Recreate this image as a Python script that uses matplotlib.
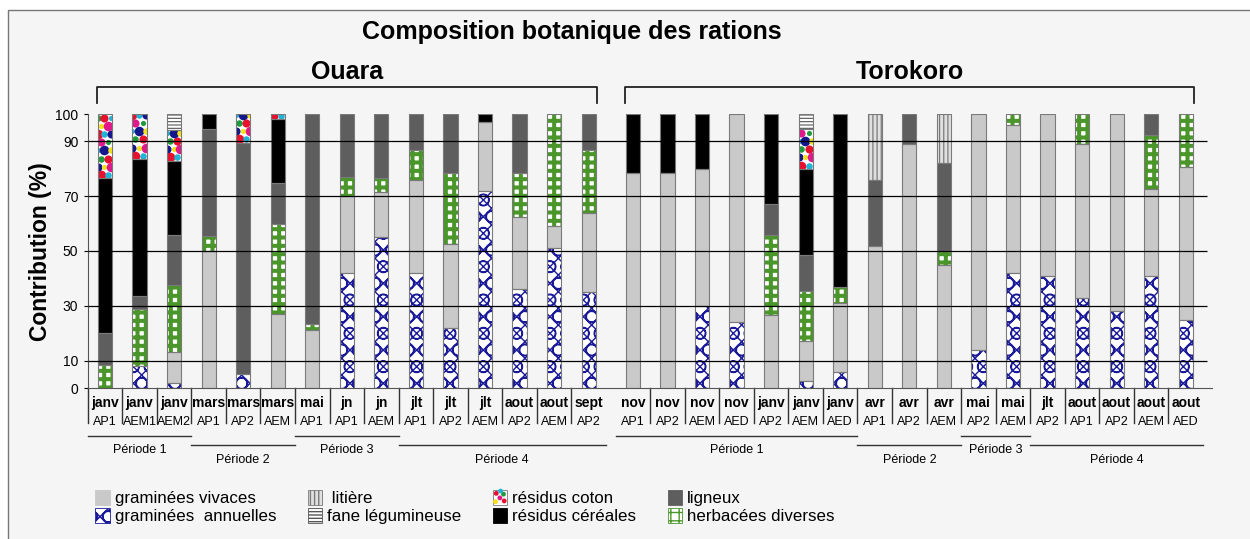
import matplotlib.pyplot as plt
import matplotlib.transforms as mtransforms
from matplotlib.legend_handler import HandlerBase
from matplotlib.patches import Patch, Rectangle, Circle
import numpy as np

plt.rcParams["font.family"] = ["Liberation Sans", "DejaVu Sans"]
NARROW = ["Liberation Sans Narrow", "Liberation Sans", "DejaVu Sans"]

# --- données ---------------------------------------------------------------
sites = ["Ouara", "Torokoro"]
site_index = [0] * 15 + [1] * 17
months = ["janv", "janv", "janv", "mars", "mars", "mars", "mai", "jn", "jn",
          "jlt", "jlt", "jlt", "aout", "aout", "sept",
          "nov", "nov", "nov", "nov", "janv", "janv", "janv", "avr", "avr", "avr",
          "mai", "mai", "jlt", "aout", "aout", "aout", "aout"]
codes = ["AP1", "AEM1", "AEM2", "AP1", "AP2", "AEM", "AP1", "AP1", "AEM",
         "AP1", "AP2", "AEM", "AP2", "AEM", "AP2",
         "AP1", "AP2", "AEM", "AED", "AP2", "AEM", "AED", "AP1", "AP2", "AEM",
         "AP2", "AEM", "AP2", "AP1", "AP2", "AEM", "AED"]
periods = [("Période 1", 0, 2), ("Période 2", 3, 5), ("Période 3", 6, 8),
           ("Période 4", 9, 14),
           ("Période 1", 15, 21), ("Période 2", 22, 24), ("Période 3", 25, 26),
           ("Période 4", 27, 31)]

# contributions (%) de chaque composante, du bas vers le haut des barres
annuelles = [0, 8, 2, 0, 5, 0, 0, 42, 55, 42, 22, 72, 36, 51, 35,
             0, 0, 30, 24, 0, 2.5, 6, 0, 0, 0, 14, 42, 41, 33, 28, 41, 25]
vivaces = [0, 0, 11, 50, 0, 27, 21, 28, 16.5, 34, 30.5, 25, 26.5, 8, 29,
           78.5, 78.5, 50, 76, 26.5, 14.5, 25, 52, 89, 45, 86, 54, 59, 56, 72, 31.5, 55.5]
herbacees = [8.5, 21, 24.5, 5.5, 0, 33, 2.5, 7, 5, 11, 26, 0, 16, 41, 23,
             0, 0, 0, 0, 29.5, 18.5, 6, 0, 0, 5, 0, 4, 0, 11, 0, 20, 19.5]
ligneux = [11.5, 4.5, 18.5, 39, 84.5, 15, 76.5, 23, 23.5, 13, 21.5, 0, 21.5, 0, 13,
           0, 0, 0, 0, 11, 13, 0, 24, 11, 32, 0, 0, 0, 0, 0, 7.5, 0]
cereales = [56.5, 50, 27, 5.5, 0, 23, 0, 0, 0, 0, 0, 3, 0, 0, 0,
            21.5, 21.5, 20, 0, 33, 31.5, 63, 0, 0, 0, 0, 0, 0, 0, 0, 0, 0]
coton = [23.5, 16.5, 11, 0, 10.5, 2, 0, 0, 0, 0, 0, 0, 0, 0, 0,
         0, 0, 0, 0, 0, 14.5, 0, 0, 0, 0, 0, 0, 0, 0, 0, 0, 0]
fane = [0, 0, 6, 0, 0, 0, 0, 0, 0, 0, 0, 0, 0, 0, 0,
        0, 0, 0, 0, 0, 5.5, 0, 0, 0, 0, 0, 0, 0, 0, 0, 0, 0]
litiere = [0, 0, 0, 0, 0, 0, 0, 0, 0, 0, 0, 0, 0, 0, 0,
           0, 0, 0, 0, 0, 0, 0, 24, 0, 18, 0, 0, 0, 0, 0, 0, 0]

# --- styles ----------------------------------------------------------------
EDGE = "#7a7a7a"
DOT_COLORS = ["#e8112d", "#22b4d6", "#15168c", "#f3e21a", "#e0188a", "#1f9a3c"]
styles = {
    "graminées vivaces": dict(facecolor="#c9c9c9"),
    "graminées annuelles": dict(facecolor="white", edgecolor="#1b1b9a", hatch="xxO", hlw=1.0),
    "herbacées diverses": dict(facecolor="white", edgecolor="#4a962a", hatch="++", hlw=2.9),
    "ligneux": dict(facecolor="#5e5e5e"),
    "résidus céréales": dict(facecolor="black"),
    "résidus coton": dict(facecolor="white"),
    "fane légumineuse": dict(facecolor="white", edgecolor="#555555", hatch="-----", hlw=0.8),
    "litière": dict(facecolor="#e0e0e0", edgecolor="#7a7a7a", hatch="||||", hlw=0.9),
}
layers = [("graminées annuelles", annuelles), ("graminées vivaces", vivaces),
          ("herbacées diverses", herbacees), ("ligneux", ligneux),
          ("résidus céréales", cereales), ("résidus coton", coton),
          ("fane légumineuse", fane), ("litière", litiere)]


def make_patch_kw(name):
    st = dict(styles[name])
    hlw = st.pop("hlw", 1.0)
    st.setdefault("edgecolor", st["facecolor"])
    return st, hlw


fig = plt.figure(figsize=(12.5, 5.39), dpi=100, facecolor="white")
fig.patches.append(Rectangle((8 / 1250, -0.05), 1.05, 1.05 - 10 / 539,
                             transform=fig.transFigure, facecolor="#f5f5f5",
                             edgecolor="#777777", lw=1.0, zorder=-10))
ax = fig.add_axes([88 / 1250, (539 - 388) / 539, (1212 - 88) / 1250, 274 / 539])
ax.set_facecolor("none")

x = np.arange(len(months)) + 0.28 * np.array(site_index)
width = 0.41
bottom = np.zeros(len(months))

for name, values in layers:
    v = np.array(values, dtype=float)
    keep = v > 0
    kw, hlw = make_patch_kw(name)
    with plt.rc_context({"hatch.linewidth": hlw}):
        bars = ax.bar(x[keep], v[keep], width, bottom=bottom[keep], lw=0, zorder=2, **kw)
    for b in bars:
        if hasattr(b, "set_hatch_linewidth"):
            b.set_hatch_linewidth(hlw)
    if name == "résidus coton":
        # motif à pois de couleur, découpé à la forme de chaque segment
        for b in bars:
            x0, y0 = b.get_x(), b.get_y()
            h = b.get_height()
            rows = np.arange(y0 + 1.2, y0 + h + 2, 3.0)
            k = 0
            for r, yy in enumerate(rows):
                offs = [0.08, 0.3] if r % 2 == 0 else [0.0, 0.19, 0.39]
                for dx in offs:
                    sc = ax.scatter(x0 + dx, yy, s=[48, 22, 34, 14][k % 4],
                                    color=DOT_COLORS[k % len(DOT_COLORS)],
                                    lw=0, zorder=2.5)
                    sc.set_clip_path(b)
                    k += 1
    ax.bar(x[keep], v[keep], width, bottom=bottom[keep], fill=False,
           edgecolor=EDGE, lw=0.8, zorder=2.6)
    bottom += v

# lignes horizontales de repère, par-dessus les barres
ax.hlines([10, 30, 50, 70, 90], -0.49, 31.9, color="black", lw=0.9, zorder=3)

ax.set_xlim(-0.49, 32.04)
ax.set_ylim(0, 100)
ax.set_yticks([0, 10, 30, 50, 70, 90, 100])
ax.set_xticks([])
ax.tick_params(axis="y", length=3, width=0.8, pad=4, labelsize=10)
for lab in ax.get_yticklabels():
    lab.set_family(NARROW)
for side in ["top", "right"]:
    ax.spines[side].set_visible(False)
for side in ["left", "bottom"]:
    ax.spines[side].set_color("#555555")
    ax.spines[side].set_linewidth(0.8)
fig.text(41 / 1250, 1 - 252 / 539, "Contribution (%)", rotation=90, ha="center",
         va="center", fontsize=16.5, fontweight="bold")

# étiquettes de catégories sous l'axe
trans = mtransforms.blended_transform_factory(ax.transData, ax.transAxes)
for i in range(len(months)):
    ax.text(x[i], -0.055, months[i], transform=trans, ha="center", va="center",
            fontsize=10, fontweight="bold", family=NARROW)
    ax.text(x[i], -0.125, codes[i], transform=trans, ha="center", va="center",
            fontsize=9, family=NARROW)
seps = [-0.49]
for i in range(len(months) - 1):
    if site_index[i] == site_index[i + 1]:
        seps.append((x[i] + x[i + 1]) / 2)
for s in seps:
    ax.plot([s, s], [0, -0.128], transform=trans, color="#333333", lw=1.0, clip_on=False)

for j, (label, i0, i1) in enumerate(periods):
    high = j % 2 == 0
    yl = -0.175 if high else -0.208
    yt = -0.228 if high else -0.262
    ax.plot([x[i0] - 0.5, x[i1] + 0.5], [yl, yl], transform=trans, color="#333333",
            lw=1.0, clip_on=False)
    ax.text((x[i0] + x[i1]) / 2, yt, label, transform=trans, ha="center", va="center",
            fontsize=9)

# accolades des deux sites
for k, site in enumerate(sites):
    idx = [i for i in range(len(months)) if site_index[i] == k]
    xa, xb = x[idx[0]] - 0.23, x[idx[-1]] + 0.25
    ax.plot([xa, xa, xb, xb], [1.04, 1.0985, 1.0985, 1.04], transform=trans,
            color="#222222", lw=1.3, clip_on=False)
    ax.text((xa + xb) / 2, 1.155, site, transform=trans, ha="center", va="center",
            fontsize=18, fontweight="bold")

fig.text(0.4576, 0.9406, "Composition botanique des rations", ha="center",
         va="center", fontsize=18, fontweight="bold")


# légende
class DotsHandler(HandlerBase):
    def create_artists(self, legend, orig_handle, xdescent, ydescent, width,
                       height, fontsize, trans):
        x0, y0 = -xdescent, -ydescent
        arts = [Rectangle((x0, y0), width, height, facecolor="white",
                          edgecolor=EDGE, lw=0.6, transform=trans)]
        spots = [(0.25, 0.75, 0), (0.75, 0.7, 5), (0.5, 0.45, 4),
                 (0.2, 0.2, 3), (0.8, 0.25, 0), (0.55, 0.9, 1)]
        for fx, fy, c in spots:
            arts.append(Circle((x0 + fx * width, y0 + fy * height), 0.16 * height,
                               color=DOT_COLORS[c], lw=0, transform=trans))
        return arts


class DotsPatch(Patch):
    pass


order = ["graminées vivaces", "graminées annuelles", "litière", "fane légumineuse",
         "résidus coton", "résidus céréales", "ligneux", "herbacées diverses"]
legend_labels = {"graminées annuelles": "graminées  annuelles", "litière": " litière"}
handles = []
for name in order:
    label = legend_labels.get(name, name)
    if name == "résidus coton":
        handles.append(DotsPatch(label=label))
        continue
    kw, hlw = make_patch_kw(name)
    with plt.rc_context({"hatch.linewidth": min(hlw, 2.2)}):
        p = Patch(label=label, lw=0.6, **kw)
    if hasattr(p, "set_hatch_linewidth"):
        p.set_hatch_linewidth(min(hlw, 2.2))
    handles.append(p)

fig.legend(handles=handles, loc="upper left", bbox_to_anchor=(0.064, 0.12),
           ncol=4, frameon=False, fontsize=12.2, handlelength=0.85, handleheight=1.0,
           handletextpad=0.3, columnspacing=1.85, labelspacing=0.12,
           handler_map={DotsPatch: DotsHandler()})

fig.savefig("out.png", dpi=100)
